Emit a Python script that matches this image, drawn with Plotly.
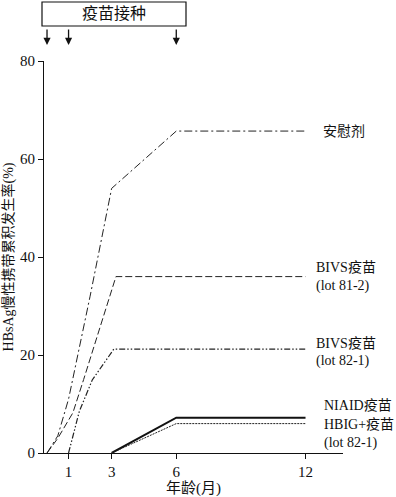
import plotly.graph_objects as go

# ---- data (months, cumulative HBsAg chronic carriage %) ----
placebo_x = [0, 0.5, 1, 2, 3, 6, 12]
placebo_y = [0, 3.5, 11, 32, 54, 65.7, 65.7]

bivs812_x = [0, 0.5, 1.2, 1.7, 3.2, 12]
bivs812_y = [0, 3, 8.2, 15, 36, 36]

bivs821_x = [1, 1.5, 2.1, 3.1, 12]
bivs821_y = [0, 8.5, 14.9, 21.2, 21.2]

niaid_x = [3, 6, 12]
niaid_y = [0, 7.2, 7.2]

hbig_x = [3, 6, 12]
hbig_y = [0, 6.0, 6.0]

vaccination_months = [0, 1, 6]

x_ticks = [1, 3, 6, 12]
y_ticks = [0, 20, 40, 60, 80]

FONT = "Liberation Serif, Times New Roman, Noto Sans CJK SC, serif"

fig = go.Figure()

def add_line(x, y, dash, width=1.0, color="#222"):
    fig.add_trace(go.Scatter(x=x, y=y, mode="lines",
                             line=dict(color=color, width=width, dash=dash),
                             showlegend=False, hoverinfo="skip"))

add_line(placebo_x, placebo_y, "8px,3px,2px,3px")
add_line(bivs812_x, bivs812_y, "7px,3px")
add_line(bivs821_x, bivs821_y, "6px,2px,1.5px,2px,1.5px,2px", width=1.2)
add_line(niaid_x, niaid_y, "solid", width=2, color="#111")
add_line(hbig_x, hbig_y, "2px,1px", width=1.0)

annotations = []

def label(text, x_px, y_val):
    annotations.append(dict(text=text, xref="paper", yref="y",
                            x=(x_px - 44) / 299, y=y_val,
                            xanchor="left", yanchor="middle", showarrow=False,
                            font=dict(family=FONT, size=14, color="#111")))

label("安慰剂", 321, 65.7)
label("BIVS疫苗", 314, (453 - 267) / 4.9)
label("(lot 81-2)", 314, (453 - 286) / 4.9)
label("BIVS疫苗", 314, (453 - 343) / 4.9)
label("(lot 82-1)", 314, (453 - 361) / 4.9)
label("NIAID疫苗", 322, (453 - 405) / 4.9)
label("HBIG+疫苗", 322, (453 - 424) / 4.9)
label("(lot 82-1)", 322, (453 - 443) / 4.9)

# vaccination box & arrows
annotations.append(dict(text="疫苗接种", xref="paper", yref="paper",
                        x=(114 - 44) / 299, y=(453 - 14) / 392,
                        xanchor="center", yanchor="middle", showarrow=False,
                        font=dict(family=FONT, size=16, color="#111")))
for m in vaccination_months:
    annotations.append(dict(text="", xref="x", yref="paper",
                            x=m, y=(453 - 45) / 392, ax=0, ay=-17,
                            showarrow=True, arrowhead=2, arrowsize=1.1,
                            arrowwidth=1.3, arrowcolor="#111"))

shapes = [dict(type="rect", xref="paper", yref="paper",
               x0=(42 - 44) / 299, x1=(186 - 44) / 299,
               y0=(453 - 26) / 392, y1=(453 - 2) / 392,
               line=dict(color="#111", width=1.2), fillcolor="white")]

fig.update_layout(
    width=396, height=497,
    margin=dict(l=44, r=53, t=61, b=44, autoexpand=False),
    paper_bgcolor="white", plot_bgcolor="white",
    font=dict(family=FONT, size=14, color="#111"),
    annotations=annotations, shapes=shapes,
    xaxis=dict(range=[-0.14, 13.74], tickvals=x_ticks, ticktext=[str(t) for t in x_ticks],
               automargin=False,
               showgrid=False, zeroline=False, showline=True, linecolor="#111", linewidth=1.2,
               ticks="outside", ticklen=5, tickcolor="#111",
               tickfont=dict(family=FONT, size=15),
               title=dict(text="年龄(月)", font=dict(family=FONT, size=15), standoff=2)),
    yaxis=dict(range=[0, 80], tickvals=y_ticks, showgrid=False, zeroline=False,
               automargin=False,
               showline=True, linecolor="#111", linewidth=1.2,
               ticks="outside", ticklen=5, tickcolor="#111",
               tickfont=dict(family=FONT, size=15),
               title=dict(text="HBsAg慢性携带累积发生率(%)", font=dict(family=FONT, size=14), standoff=4)),
)

fig.write_html("out.html", config={"displayModeBar": False},
               post_script="document.body.style.margin='0';document.body.style.padding='0';")
